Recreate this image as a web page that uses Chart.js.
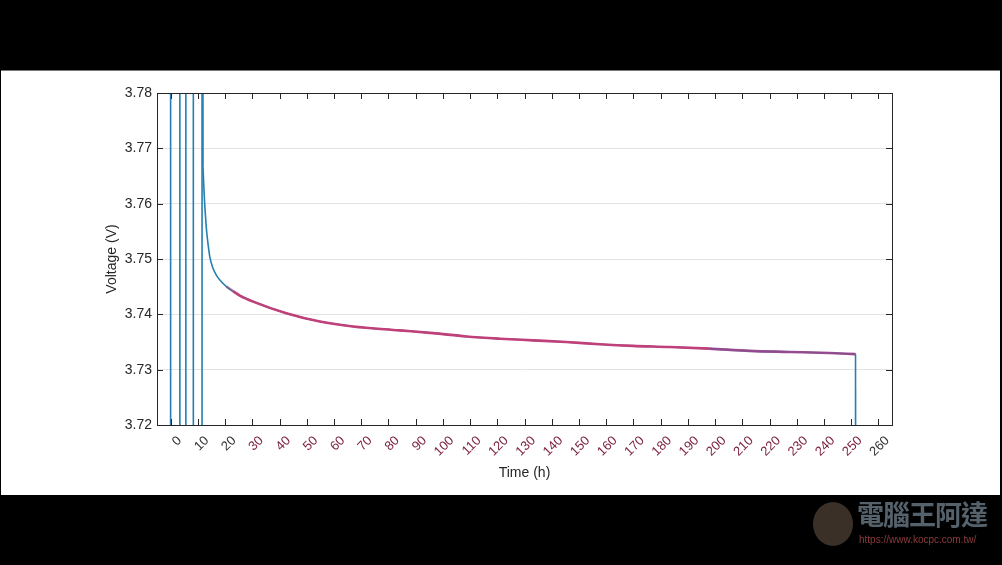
<!DOCTYPE html>
<html>
<head>
<meta charset="utf-8">
<script src="https://cdn.jsdelivr.net/npm/chart.js@4.4.1/dist/chart.umd.min.js"></script>
<style>
  html, body { margin: 0; padding: 0; background: #000; }
  body { width: 1002px; height: 565px; position: relative; overflow: hidden; font-family: "Liberation Sans", Arial, sans-serif; }
  .panel { position: absolute; left: 1px; top: 70px; width: 999px; height: 425px; background: #fff; border-top: 1px solid #777; box-sizing: border-box; }
  #chart-box { position: absolute; left: 0; top: 70px; width: 1002px; height: 425px; }
  .face { position: absolute; left: 813px; top: 502px; width: 40px; height: 44px; border-radius: 50%; background: #3b3028; }
  .brand { position: absolute; left: 857px; top: 500px; font-family: "Noto Sans CJK TC", sans-serif; font-weight: bold; font-size: 27px; letter-spacing: -1px; color: #55626c; line-height: 1; }
  .url { position: absolute; left: 859px; top: 534px; font-size: 10px; color: #8c3b3b; }
</style>
</head>
<body>
<div class="panel"></div>
<div id="chart-box"><canvas id="voltage-chart" width="1002" height="425"></canvas></div>
<div class="face"></div>
<div class="brand">電腦王阿達</div>
<div class="url">https://www.kocpc.com.tw/</div>
<script>
  // pulses at the start, going off scale both ways
  const pulseHours = [0, 0, 3.4, 3.4, 5.6, 5.6, 8.35, 8.35, 11.55, 11.55, 11.9];
  const pulseVolts = [3.60, 3.95, 3.95, 3.60, 3.60, 3.95, 3.95, 3.60, 3.60, 3.95, 3.7667];

  // measured relaxation after the last pulse, then the drop at the end
  const relaxHours = [11.9, 12.2, 12.5, 12.85, 13.2, 13.8, 14.4, 15.5, 16.9, 18.1, 20.5, 22.9, 25.4, 30.3,
    42.5, 54.8, 67.0, 84.1, 96.4, 108.6, 120.9, 133.1, 145.3, 157.6, 169.8, 183.3, 197.9, 212.6, 227.3,
    242.0, 251.6];
  const relaxVolts = [3.7667, 3.7630, 3.7601, 3.7575, 3.7552, 3.7525, 3.7504, 3.7484, 3.7470, 3.7462, 3.7450,
    3.7442, 3.7434, 3.7423, 3.7402, 3.7387, 3.7378, 3.7371, 3.7366, 3.7360, 3.7356, 3.7353, 3.7350, 3.7346,
    3.7343, 3.7341, 3.7338, 3.7334, 3.7332, 3.7330, 3.7328];
  const dropHours = [251.6, 251.8];
  const dropVolts = [3.7328, 3.60];

  // fitted curve
  const fitHours = [20.5, 22.9, 25.4, 30.3, 42.5, 54.8, 67.0, 84.1, 96.4, 108.6, 120.9, 133.1,
    145.3, 157.6, 169.8, 183.3, 197.9, 212.6, 227.3, 242.0, 251.6];
  const fitVolts = [3.7450, 3.7442, 3.7434, 3.7423, 3.7402, 3.7387, 3.7378, 3.7371, 3.7366, 3.7360, 3.7356, 3.7353,
    3.7350, 3.7346, 3.7343, 3.7341, 3.7338, 3.7334, 3.7332, 3.7330, 3.7328];

  const xTickValues = [0, 10, 20, 30, 40, 50, 60, 70, 80, 90, 100, 110, 120, 130, 140, 150, 160, 170, 180,
    190, 200, 210, 220, 230, 240, 250, 260];
  const yTickValues = [3.72, 3.73, 3.74, 3.75, 3.76, 3.77, 3.78];

  const toPoints = (xs, ys) => xs.map((x, i) => ({ x: x, y: ys[i] }));

  // matlab style box with inward ticks on all sides
  const frameTicks = {
    id: 'frameTicks',
    afterDatasetsDraw(chart) {
      const { ctx, chartArea: a, scales } = chart;
      const len = 6;
      ctx.save();
      ctx.strokeStyle = '#262626';
      ctx.lineWidth = 1;
      ctx.beginPath();
      xTickValues.forEach((v) => {
        const px = Math.round(scales.x.getPixelForValue(v)) + 0.5;
        ctx.moveTo(px, a.bottom);
        ctx.lineTo(px, a.bottom - len);
        ctx.moveTo(px, a.top);
        ctx.lineTo(px, a.top + len);
      });
      yTickValues.forEach((v) => {
        const py = Math.round(scales.y.getPixelForValue(v)) + 0.5;
        ctx.moveTo(a.left, py);
        ctx.lineTo(a.left + len, py);
        ctx.moveTo(a.right, py);
        ctx.lineTo(a.right - len, py);
      });
      ctx.stroke();
      ctx.strokeRect(Math.round(a.left) + 0.5, Math.round(a.top) + 0.5,
        Math.round(a.right - a.left), Math.round(a.bottom - a.top));
      ctx.restore();
    },
  };

  Chart.defaults.font.family = '"Liberation Sans", Arial, sans-serif';
  Chart.defaults.font.size = 13;
  Chart.defaults.color = '#262626';

  const blue = '#2380b0';
  const pink = '#c0407a';

  function blueLine(label, xs, ys, smooth) {
    return {
      label: label,
      data: toPoints(xs, ys),
      borderColor: blue,
      borderWidth: 1.6,
      pointRadius: 0,
      tension: 0,
      cubicInterpolationMode: smooth ? 'monotone' : 'default',
    };
  }

  new Chart(document.getElementById('voltage-chart'), {
    type: 'line',
    data: {
      datasets: [
        {
          label: 'fit',
          data: toPoints(fitHours, fitVolts),
          borderColor: pink,
          borderWidth: 2.6,
          pointRadius: 0,
          cubicInterpolationMode: 'monotone',
          segment: {
            borderColor: (c) => c.p0.parsed.x < 22 ? 'rgba(150,75,135,0.6)'
              : c.p0.parsed.x > 185 ? 'rgba(150,72,140,0.95)' : undefined,
          },
        },
        blueLine('measured', relaxHours, relaxVolts, true),
        blueLine('pulses', pulseHours, pulseVolts, false),
        blueLine('drop', dropHours, dropVolts, false),
      ],
    },
    options: {
      responsive: false,
      animation: false,
      layout: { padding: { left: 100, right: 110, top: 23, bottom: 0 } },
      plugins: { legend: { display: false }, tooltip: { enabled: false } },
      scales: {
        x: {
          type: 'linear',
          min: -5,
          max: 265,
          afterBuildTicks: (scale) => { scale.ticks = xTickValues.map((v) => ({ value: v })); },
          afterFit: (scale) => { scale.height = 70; },
          grid: { display: false, drawTicks: false },
          border: { display: false },
          ticks: {
            autoSkip: false,
            minRotation: 45,
            maxRotation: 45,
            padding: 8,
            labelOffset: 9,
            color: (c) => (c.tick.value >= 30 && c.tick.value <= 250 ? '#7a1f3d' : '#333333'),
            callback: (v) => String(v),
          },
          title: { display: true, text: 'Time (h)', font: { size: 14 }, color: '#262626', padding: { top: 0, bottom: 13 } },
        },
        y: {
          min: 3.72,
          max: 3.78,
          afterBuildTicks: (scale) => { scale.ticks = yTickValues.map((v) => ({ value: v })); },
          afterFit: (scale) => { scale.width = 57; },
          grid: { color: '#e3e3e3', drawTicks: false },
          border: { display: false },
          ticks: { padding: 5, font: { size: 14 }, callback: (v) => Number(v).toFixed(2) },
          title: { display: true, text: 'Voltage (V)', font: { size: 14 }, color: '#262626', padding: { top: 4, bottom: 0 } },
        },
      },
    },
    plugins: [frameTicks],
  });
</script>
</body>
</html>
